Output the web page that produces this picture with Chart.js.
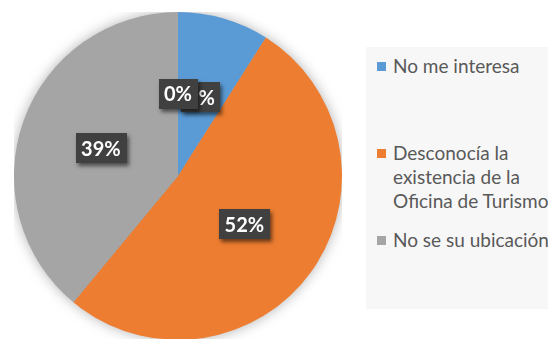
<!DOCTYPE html>
<html>
<head>
<meta charset="utf-8">
<script src="https://cdn.jsdelivr.net/npm/chart.js@4.4.1/dist/chart.umd.min.js"></script>
<style>
  html, body { margin: 0; padding: 0; background: #fff; overflow: hidden; }
  body { width: 548px; height: 339px; position: relative; font-family: Lato, "Open Sans", sans-serif; }
  #pieBox { position: absolute; left: 14px; top: 12px; width: 328px; height: 328px; }
  #legend { position: absolute; left: 366px; top: 47px; width: 200px; height: 262px; background: #f7f7f7; }
  .item { position: absolute; left: 11px; color: #595959; font-size: 19px; line-height: 24px; white-space: nowrap; }
  .item .sw { position: absolute; left: 0; top: 8px; width: 9px; height: 9px; }
  .item .tx { margin-left: 16px; }
</style>
</head>
<body>
<div id="pieBox"><canvas id="pie"></canvas></div>
<div id="legend"></div>
<script>
// categories and their shares (the last, empty slice has no legend entry)
const labels = ['No me interesa', 'Desconocía la existencia de la Oficina de Turismo', 'No se su ubicación'];
const legendLines = [['No me interesa'], ['Desconocía la', 'existencia de la', 'Oficina de Turismo'], ['No se su ubicación']];
const values = [9, 52, 39, 0];
const colors = ['#5B9BD5', '#ED7D31', '#A5A5A5', '#FFC000'];

// legend, built from the same arrays
const itemTops = [7, 94, 181];
const legendEl = document.getElementById('legend');
legendLines.forEach((lines, i) => {
  const d = document.createElement('div');
  d.className = 'item';
  d.style.top = itemTops[i] + 'px';
  d.innerHTML = '<span class="sw" style="background:' + colors[i] + '"></span><div class="tx">' + lines.join('<br>') + '</div>';
  legendEl.appendChild(d);
});

// soft halo behind the whole pie
const pieShadow = {
  id: 'pieShadow',
  beforeDatasetsDraw(chart) {
    const arc = chart.getDatasetMeta(0).data[0];
    if (!arc) return;
    const ctx = chart.ctx;
    ctx.save();
    ctx.shadowColor = 'rgba(0,0,0,0.35)';
    ctx.shadowBlur = 14;
    ctx.fillStyle = '#A5A5A5';
    ctx.beginPath();
    ctx.arc(arc.x, arc.y, arc.outerRadius - 1, 0, Math.PI * 2);
    ctx.fill();
    ctx.restore();
  }
};

// dark boxed percentage labels
const boxLabels = {
  id: 'boxLabels',
  afterDatasetsDraw(chart) {
    const ctx = chart.ctx;
    const meta = chart.getDatasetMeta(0);
    ctx.save();
    ctx.font = 'bold 20px Lato, "Open Sans", sans-serif';
    ctx.textAlign = 'center';
    ctx.textBaseline = 'middle';
    meta.data.forEach((arc, i) => {
      const p = arc.tooltipPosition();
      const txt = values[i] + '%';
      const w = ctx.measureText(txt).width + 11;
      const h = 30;
      ctx.save();
      ctx.shadowColor = 'rgba(0,0,0,0.55)';
      ctx.shadowBlur = 4;
      ctx.shadowOffsetX = 2;
      ctx.shadowOffsetY = 3;
      ctx.fillStyle = '#404040';
      ctx.fillRect(Math.round(p.x - w / 2), Math.round(p.y - h / 2), Math.round(w), h);
      ctx.restore();
      ctx.fillStyle = '#ffffff';
      ctx.fillText(txt, p.x, p.y + 1);
    });
    ctx.restore();
  }
};

new Chart(document.getElementById('pie'), {
  type: 'pie',
  data: {
    labels: labels,
    datasets: [{
      data: values,
      backgroundColor: colors,
      borderWidth: 0
    }]
  },
  options: {
    responsive: true,
    maintainAspectRatio: false,
    animation: false,
    events: [],
    layout: { padding: 0 },
    plugins: {
      legend: { display: false },
      tooltip: { enabled: false }
    }
  },
  plugins: [pieShadow, boxLabels]
});
</script>
</body>
</html>
